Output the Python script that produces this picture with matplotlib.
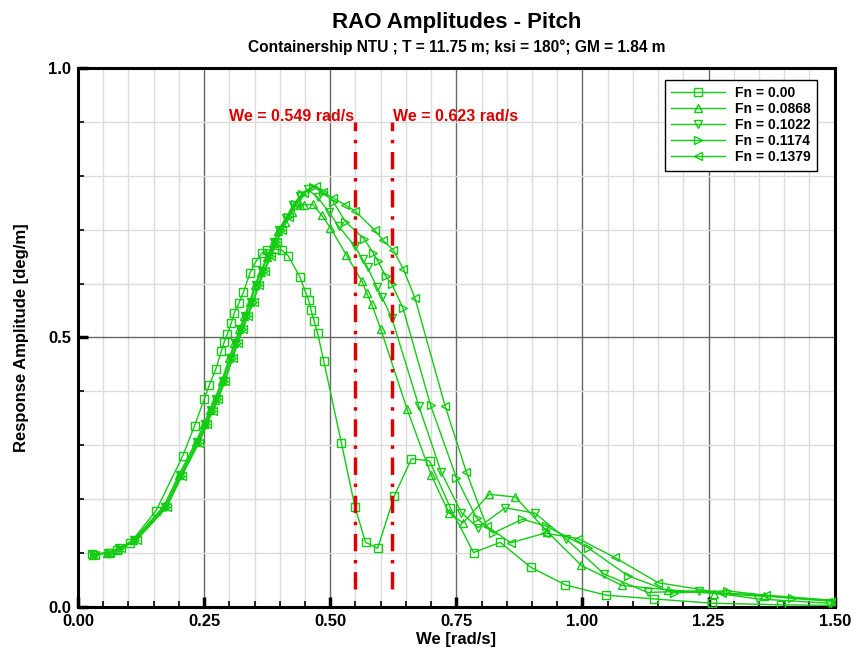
import matplotlib
matplotlib.use("Agg")
import matplotlib.pyplot as plt
from matplotlib.ticker import MultipleLocator

plt.rcParams["font.family"] = ["Liberation Sans", "DejaVu Sans"]
plt.rcParams["font.weight"] = "bold"

# --- data ------------------------------------------------------------------
we_fn000 = [0.028, 0.061, 0.078, 0.104, 0.155, 0.208, 0.231, 0.250, 0.260, 0.273,
            0.284, 0.290, 0.296, 0.304, 0.310, 0.319, 0.328, 0.341, 0.352, 0.365,
            0.374, 0.392, 0.404, 0.417, 0.440, 0.451, 0.457, 0.462, 0.468, 0.475,
            0.487, 0.522, 0.549, 0.570, 0.594, 0.627, 0.661, 0.697, 0.738, 0.784,
            0.837, 0.897, 0.966, 1.046, 1.141, 1.257, 1.394, 1.500]
rao_fn000 = [0.098, 0.101, 0.106, 0.119, 0.179, 0.281, 0.336, 0.385, 0.411, 0.441,
             0.474, 0.492, 0.506, 0.527, 0.546, 0.564, 0.584, 0.620, 0.640, 0.657,
             0.662, 0.664, 0.662, 0.651, 0.612, 0.584, 0.570, 0.551, 0.531, 0.508,
             0.457, 0.305, 0.186, 0.120, 0.109, 0.206, 0.275, 0.271, 0.184, 0.101,
             0.120, 0.074, 0.041, 0.022, 0.015, 0.007, 0.004, 0.003]

we_fn0868 = [0.030, 0.058, 0.080, 0.110, 0.170, 0.200, 0.234, 0.250, 0.261, 0.271,
             0.285, 0.300, 0.310, 0.320, 0.330, 0.340, 0.351, 0.362, 0.375, 0.387,
             0.396, 0.410, 0.425, 0.440, 0.448, 0.465, 0.483, 0.500, 0.532, 0.563,
             0.572, 0.582, 0.600, 0.652, 0.700, 0.735, 0.763, 0.815, 0.867, 0.930,
             0.998, 1.078, 1.170, 1.260, 1.360, 1.500]
rao_fn0868 = [0.097, 0.100, 0.108, 0.124, 0.187, 0.245, 0.307, 0.340, 0.365, 0.384,
              0.420, 0.462, 0.490, 0.515, 0.540, 0.565, 0.598, 0.622, 0.650, 0.675,
              0.697, 0.715, 0.733, 0.745, 0.746, 0.747, 0.727, 0.704, 0.653, 0.604,
              0.583, 0.562, 0.516, 0.368, 0.245, 0.175, 0.156, 0.209, 0.204, 0.140,
              0.077, 0.040, 0.032, 0.025, 0.020, 0.012]

we_fn1022 = [0.030, 0.060, 0.082, 0.112, 0.172, 0.202, 0.236, 0.252, 0.263, 0.273,
             0.287, 0.302, 0.312, 0.322, 0.332, 0.342, 0.353, 0.364, 0.377, 0.389,
             0.398, 0.412, 0.426, 0.440, 0.455, 0.475, 0.498, 0.517, 0.549, 0.564,
             0.574, 0.592, 0.602, 0.622, 0.676, 0.720, 0.760, 0.793, 0.847, 0.906,
             0.968, 1.043, 1.129, 1.230, 1.348, 1.488]
rao_fn1022 = [0.097, 0.101, 0.109, 0.125, 0.186, 0.244, 0.306, 0.340, 0.365, 0.386,
              0.420, 0.462, 0.490, 0.515, 0.540, 0.566, 0.598, 0.623, 0.652, 0.678,
              0.700, 0.722, 0.745, 0.762, 0.775, 0.760, 0.732, 0.706, 0.669, 0.645,
              0.630, 0.594, 0.576, 0.536, 0.372, 0.250, 0.175, 0.147, 0.184, 0.174,
              0.126, 0.061, 0.027, 0.030, 0.015, 0.007]

we_fn1174 = [0.032, 0.062, 0.084, 0.114, 0.174, 0.204, 0.238, 0.254, 0.265, 0.276,
             0.290, 0.305, 0.315, 0.325, 0.335, 0.346, 0.357, 0.368, 0.381, 0.393,
             0.403, 0.417, 0.430, 0.445, 0.465, 0.486, 0.506, 0.530, 0.567, 0.585,
             0.594, 0.610, 0.622, 0.644, 0.699, 0.750, 0.790, 0.823, 0.881, 0.928,
             1.011, 1.090, 1.181, 1.287, 1.415, 1.500]
rao_fn1174 = [0.097, 0.101, 0.109, 0.124, 0.185, 0.243, 0.305, 0.339, 0.364, 0.386,
              0.420, 0.462, 0.490, 0.515, 0.540, 0.566, 0.598, 0.623, 0.652, 0.678,
              0.700, 0.724, 0.748, 0.766, 0.780, 0.769, 0.752, 0.715, 0.683, 0.657,
              0.642, 0.614, 0.599, 0.555, 0.374, 0.240, 0.165, 0.137, 0.163, 0.150,
              0.110, 0.058, 0.026, 0.030, 0.016, 0.010]

we_fn1379 = [0.034, 0.064, 0.086, 0.116, 0.176, 0.206, 0.240, 0.256, 0.267, 0.278,
             0.292, 0.307, 0.317, 0.327, 0.337, 0.348, 0.359, 0.370, 0.383, 0.395,
             0.405, 0.419, 0.432, 0.448, 0.472, 0.486, 0.506, 0.529, 0.549, 0.588,
             0.605, 0.625, 0.645, 0.668, 0.728, 0.770, 0.810, 0.858, 0.925, 0.991,
             1.064, 1.150, 1.277, 1.364, 1.500]
rao_fn1379 = [0.097, 0.101, 0.109, 0.124, 0.185, 0.243, 0.305, 0.339, 0.364, 0.386,
              0.420, 0.462, 0.490, 0.515, 0.540, 0.566, 0.598, 0.623, 0.652, 0.678,
              0.700, 0.724, 0.748, 0.768, 0.781, 0.769, 0.759, 0.746, 0.735, 0.699,
              0.680, 0.662, 0.627, 0.573, 0.372, 0.250, 0.150, 0.119, 0.137, 0.127,
              0.092, 0.045, 0.026, 0.022, 0.012]

series_labels = ["Fn = 0.00", "Fn = 0.0868", "Fn = 0.1022", "Fn = 0.1174", "Fn = 0.1379"]
series_markers = ["s", "^", "v", ">", "<"]

we_marks = [0.549, 0.623]
we_mark_labels = ["We = 0.549 rad/s", "We = 0.623 rad/s"]

x_ticks = [0.00, 0.25, 0.50, 0.75, 1.00, 1.25, 1.50]
y_ticks = [0.0, 0.5, 1.0]

GREEN = "#11cc11"
RED = "#dd0000"

# --- figure ---------------------------------------------------------------
fig = plt.figure(figsize=(8.57, 6.51), dpi=100)
ax = fig.add_axes([0.091, 0.0676, 0.883, 0.828])

ax.set_xlim(0, 1.5)
ax.set_ylim(0, 1.0)
ax.xaxis.set_minor_locator(MultipleLocator(0.05))
ax.yaxis.set_minor_locator(MultipleLocator(0.1))
ax.set_xticks(x_ticks)
ax.set_yticks(y_ticks)
ax.set_xticklabels([f"{v:.2f}" for v in x_ticks])
ax.set_yticklabels([f"{v:.1f}" for v in y_ticks])

ax.grid(which="minor", color="#dcdcdc", lw=1.0, zorder=0)
ax.grid(which="major", color="#666666", lw=1.0, zorder=0)
ax.set_axisbelow(True)

ax.tick_params(which="major", direction="in", length=7, width=2.5, labelsize=12, pad=5)
ax.tick_params(which="minor", direction="in", length=4, width=1.2)
ax.tick_params(axis="y", which="both", right=False)
for lab in ax.get_xticklabels() + ax.get_yticklabels():
    lab.set_fontweight("bold")
for sp in ax.spines.values():
    sp.set_linewidth(2.2)

all_we = [we_fn000, we_fn0868, we_fn1022, we_fn1174, we_fn1379]
all_rao = [rao_fn000, rao_fn0868, rao_fn1022, rao_fn1174, rao_fn1379]
for we, rao, lab, mk in zip(all_we, all_rao, series_labels, series_markers):
    ax.plot(we, rao, color=GREEN, lw=1.0, marker=mk, markersize=5.5,
            markerfacecolor="none", markeredgecolor=GREEN, markeredgewidth=1.0,
            label=lab, zorder=3)

for xv, txt, ha in zip(we_marks, we_mark_labels, ["right", "left"]):
    ax.plot([xv, xv], [0.033, 0.90], color=RED, lw=2.5, dashes=(5, 2.5, 1, 2.5), zorder=4)
    ax.text(xv + (-0.001 if ha == "right" else 0.001), 0.910, txt, color=RED, ha=ha,
            va="center", fontsize=11.5, fontweight="bold")

leg = ax.legend(loc="upper right", bbox_to_anchor=(0.986, 0.991), fontsize=10,
                frameon=True, fancybox=False, edgecolor="black", framealpha=1,
                handlelength=3.9, handletextpad=0.7, borderpad=0.45, labelspacing=0.15)
leg.get_frame().set_linewidth(1.0)
for t in leg.get_texts():
    t.set_fontweight("bold")

ax.set_xlabel("We [rad/s]", fontsize=12, fontweight="bold", labelpad=2)
ax.set_ylabel("Response Amplitude [deg/m]", fontsize=12, fontweight="bold", labelpad=14)

fig.text(0.533, 0.966, "RAO Amplitudes - Pitch", ha="center", va="center",
         fontsize=16, fontweight="bold")
fig.text(0.533, 0.928, "Containership NTU ; T = 11.75 m; ksi = 180°; GM = 1.84 m",
         ha="center", va="center", fontsize=11.2, fontweight="bold")

fig.savefig("out.png", dpi=100)
